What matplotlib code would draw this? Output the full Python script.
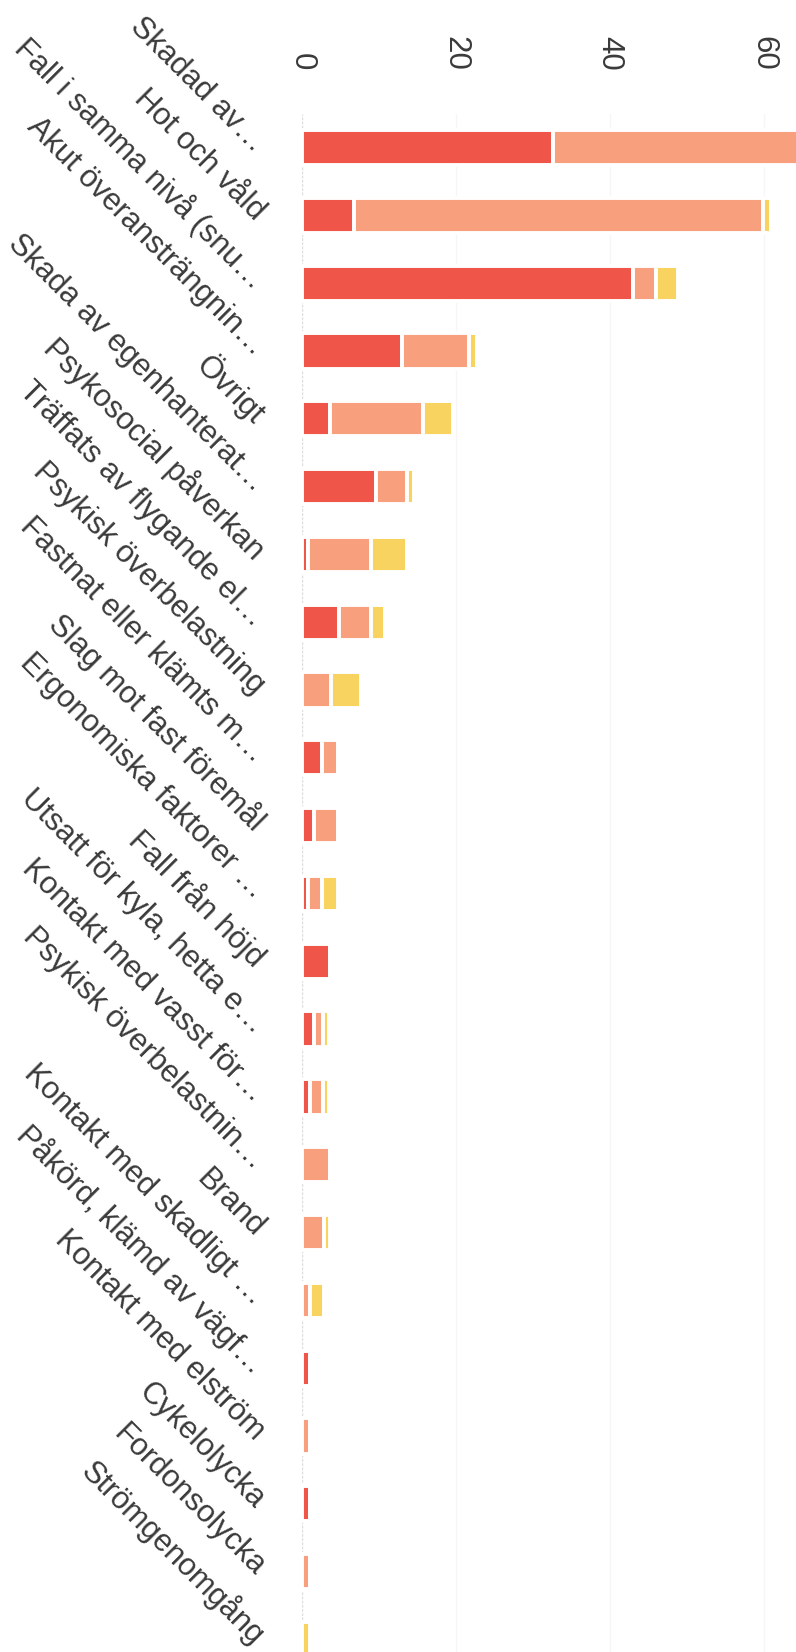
import numpy as np
import matplotlib.pyplot as plt

plt.rcParams['font.family'] = ['Liberation Sans', 'DejaVu Sans']

categories = [
    'Skadad av…', 'Hot och våld', 'Fall i samma nivå (snu…',
    'Akut överansträngnin…', 'Övrigt', 'Skada av egenhanterat…',
    'Psykosocial påverkan', 'Träffats av flygande el…',
    'Psykisk överbelastning', 'Fastnat eller klämts m…',
    'Slag mot fast föremål', 'Ergonomiska faktorer …', 'Fall från höjd',
    'Utsatt för kyla, hetta e…', 'Kontakt med vasst för…',
    'Psykisk överbelastnin…', 'Brand', 'Kontakt med skadligt …',
    'Påkörd, klämd av vägf…', 'Kontakt med elström', 'Cykelolycka',
    'Fordonsolycka', 'Strömgenomgång',
]

red = [32.7, 6.8, 43.0, 13.0, 3.7, 9.7, 0.9, 4.9, 0, 2.6, 1.6, 0.8,
       3.7, 1.6, 1.1, 0, 0, 0, 1.1, 0, 1.1, 0, 0]
salmon = [33.0, 53.1, 3.0, 8.7, 12.1, 4.0, 8.1, 4.1, 3.8, 2.2, 3.2, 1.8,
          0, 1.2, 1.7, 3.7, 2.9, 1.1, 0.35, 1.1, 0, 1.1, 0]
yellow = [0, 1.1, 2.9, 1.1, 3.9, 0.95, 4.7, 1.8, 3.9, 0, 0, 2.2,
          0, 0.8, 0.8, 0, 0.8, 1.8, 0, 0, 0, 0, 1.1]

ticks = [0, 20, 40, 60]
colors = ['#ef5549', '#f89f7e', '#f8d35f']

W, H = 796, 1652
fig = plt.figure(figsize=(W / 100, H / 100), dpi=100)
x0 = 301.5
top, bottom = 113.6, 1673.3
ax = fig.add_axes([x0 / W, 1 - bottom / H, 1 - x0 / W, (bottom - top) / H])

y = np.arange(len(categories))
left = np.zeros(len(categories))
for vals, c in zip([red, salmon, yellow], colors):
    vals = np.array(vals)
    ax.barh(y, vals, left=left, height=0.52, color=c,
            edgecolor='white', linewidth=2.8, zorder=3)
    left += vals

ax.set_xlim(0, 64.2)
ax.set_ylim(len(categories) - 0.5, -0.5)

# faint grid, slightly stronger zero line
for t in ticks[1:]:
    ax.axvline(t, color='#f6f6f6', lw=1, zorder=1)
ax.axvline(0, color='#dedede', lw=1, ls=(0, (2, 1)), zorder=1)

for s in ax.spines.values():
    s.set_visible(False)

ax.xaxis.tick_top()
ax.set_xticks(ticks)
ax.set_xticklabels([str(t) for t in ticks], rotation=-90, fontsize=22.5,
                   color='#3a3a3a')
ax.tick_params(axis='x', length=0, pad=31)

ax.set_yticks(y)
ax.set_yticklabels(categories, fontsize=22.2, color='#3a3a3a')
ax.tick_params(axis='y', length=0, pad=30)
for lab in ax.get_yticklabels():
    lab.set_rotation(-45)
    lab.set_rotation_mode('anchor')
    lab.set_ha('right')
    lab.set_va('center')

fig.savefig('out.png', dpi=100)
